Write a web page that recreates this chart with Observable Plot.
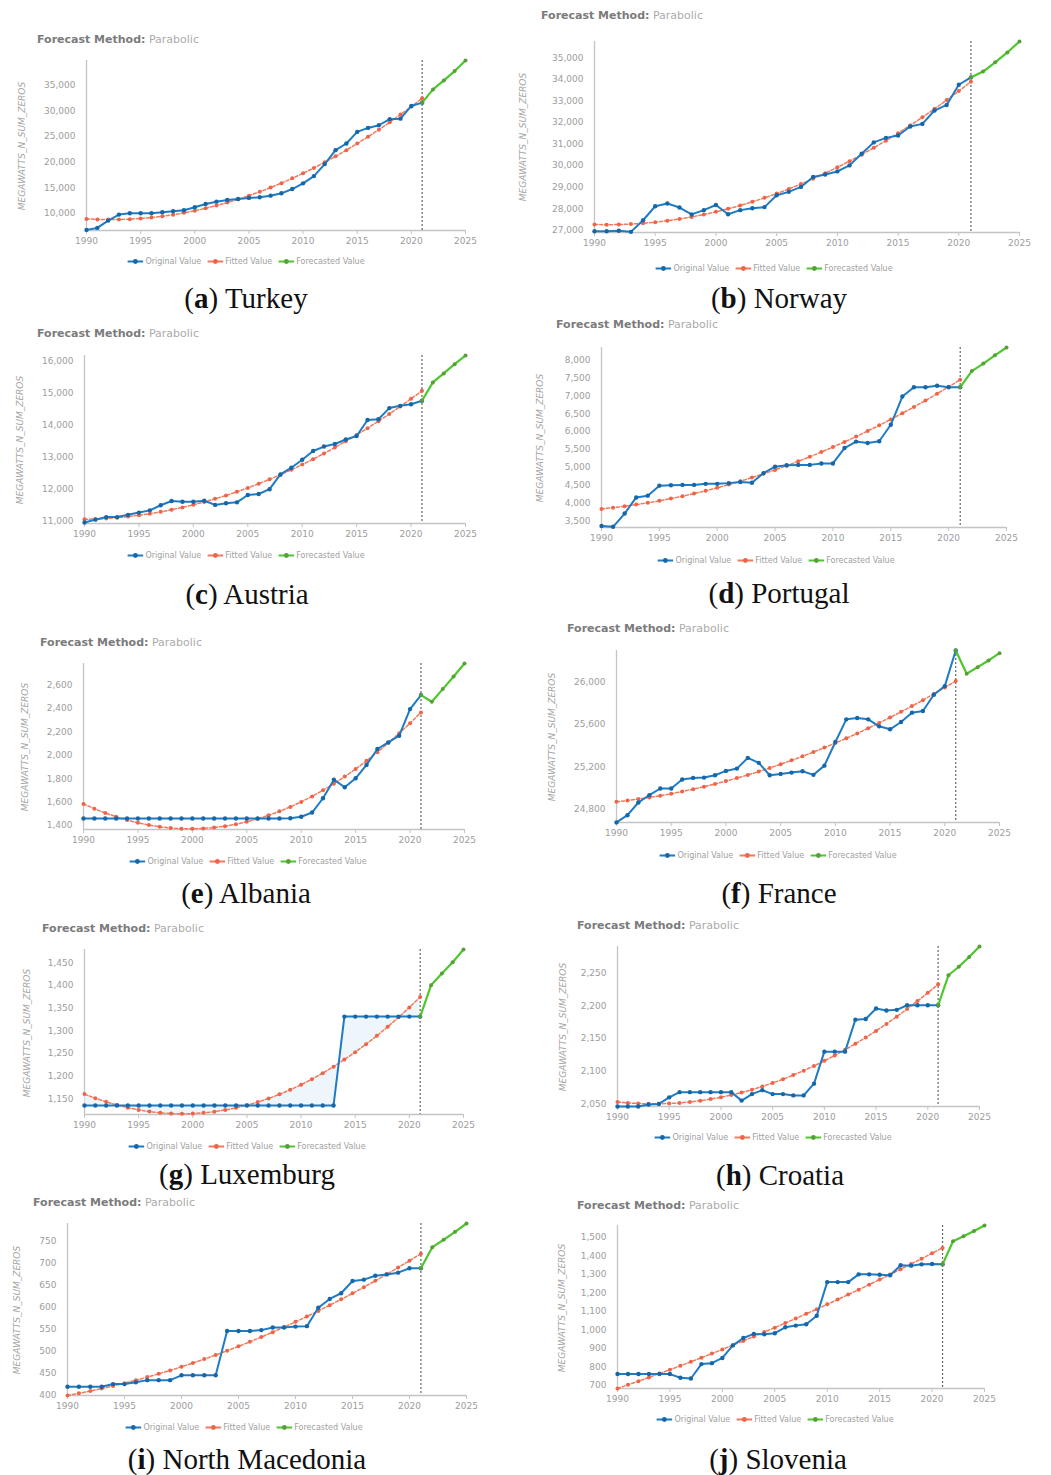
<!DOCTYPE html>
<html><head><meta charset="utf-8">
<script src="https://cdn.jsdelivr.net/npm/d3@7"></script>
<script src="https://cdn.jsdelivr.net/npm/@observablehq/plot@0.6"></script>
<style>
body{margin:0;background:#fff;}
#root{position:relative;width:1051px;height:1475px;overflow:hidden;font-family:"DejaVu Sans",sans-serif;}
.abs{position:absolute;}
.title{font-size:11px;white-space:nowrap;transform:translateY(-50%);}
.title b{color:#7b7b7b;}
.title span{color:#ababab;}
.ylab{font-size:9px;font-style:italic;color:#a5a5a5;white-space:nowrap;transform:translate(-50%,-50%) rotate(-90deg);}
.legend{display:flex;gap:6px;font-size:8px;color:#a0a0a0;white-space:nowrap;transform:translate(-50%,-50%);align-items:center;}
.legend .it{display:flex;align-items:center;gap:2px;}
.caption{font-family:"Liberation Serif",serif;font-size:29px;color:#111;white-space:nowrap;transform:translate(-50%,-50%);}
</style></head><body><div id="root"></div>
<script>
// ---- categories / ticks ----
const years = [1990,1991,1992,1993,1994,1995,1996,1997,1998,1999,2000,2001,2002,2003,2004,2005,2006,2007,2008,2009,2010,2011,2012,2013,2014,2015,2016,2017,2018,2019,2020,2021];
const forecastYears = [2021,2022,2023,2024,2025];
const xTicks = [1990,1995,2000,2005,2010,2015,2020,2025];
const seriesNames = ["Original Value","Fitted Value","Forecasted Value"];

// ---- (a) Turkey ----
const turkeyOriginal = [6750,7140,8570,9740,10000,10000,10000,10200,10400,10580,11170,11820,12270,12600,12800,13000,13120,13440,13900,14740,15850,17270,19610,22340,23640,25910,26690,27210,28400,28500,30980,31630];
const turkeyFitted = [8900,8802,8761,8778,8852,8983,9172,9418,9720,10080,10497,10972,11503,12092,12738,13440,14200,15018,15892,16824,17814,18860,19964,21125,22343,23619,24951,26341,27788,29293,30855,32474];
const turkeyForecast = [31630,34220,35980,37800,39870];
const turkeyTicks = [10000,15000,20000,25000,30000,35000];

// ---- (b) Norway ----
const norwayOriginal = [26950,26950,26970,26920,27460,28110,28240,28050,27730,27930,28170,27740,27930,28020,28070,28620,28780,29010,29470,29590,29730,30010,30550,31080,31290,31400,31820,31940,32560,32820,33760,34100];
const norwayFitted = [27260,27252,27260,27282,27319,27371,27437,27518,27615,27725,27851,27991,28146,28316,28501,28700,28914,29143,29387,29645,29919,30206,30509,30827,31159,31507,31869,32246,32638,33045,33466,33902];
const norwayForecast = [34100,34370,34800,35260,35770];
const norwayTicks = [27000,28000,29000,30000,31000,32000,33000,34000,35000];

// ---- (c) Austria ----
const austriaOriginal = [10960,11050,11130,11130,11200,11270,11340,11500,11630,11610,11610,11640,11510,11560,11590,11820,11850,12000,12460,12670,12920,13190,13330,13410,13550,13660,14160,14180,14530,14600,14650,14760];
const austriaFitted = [11060,11069,11087,11112,11145,11187,11236,11293,11359,11432,11513,11603,11700,11805,11919,12040,12169,12307,12452,12605,12767,12936,13113,13299,13492,13693,13903,14120,14345,14579,14820,15069];
const austriaForecast = [14760,15330,15610,15900,16170];
const austriaTicks = [11000,12000,13000,14000,15000,16000];

// ---- (d) Portugal ----
const portugalOriginal = [3360,3340,3710,4160,4210,4490,4500,4510,4510,4540,4540,4560,4590,4570,4840,5020,5060,5070,5070,5110,5110,5540,5720,5680,5730,6190,6980,7240,7240,7280,7240,7240];
const portugalFitted = [3840,3874,3914,3960,4010,4066,4128,4195,4268,4347,4430,4519,4614,4714,4819,4930,5047,5168,5295,5429,5567,5711,5860,6015,6175,6341,6512,6689,6871,7058,7251,7450];
const portugalForecast = [7240,7690,7900,8130,8350];
const portugalTicks = [3500,4000,4500,5000,5500,6000,6500,7000,7500,8000];

// ---- (e) Albania ----
const albaniaOriginal = [1460,1460,1460,1460,1460,1460,1460,1460,1460,1460,1460,1460,1460,1460,1460,1460,1460,1460,1460,1462,1475,1511,1633,1792,1727,1804,1918,2054,2111,2168,2395,2515];
const albaniaFitted = [1585,1544,1507,1475,1447,1423,1404,1389,1379,1373,1372,1375,1383,1394,1411,1432,1457,1487,1521,1559,1602,1649,1701,1758,1818,1883,1953,2027,2105,2188,2275,2367];
const albaniaForecast = [2515,2458,2566,2674,2785];
const albaniaTicks = [1400,1600,1800,2000,2200,2400,2600];

// ---- (f) France ----
const franceOriginal = [24675,24743,24863,24932,24995,24995,25080,25095,25098,25120,25161,25183,25284,25237,25120,25133,25145,25158,25124,25211,25434,25648,25661,25648,25582,25554,25623,25711,25727,25880,25962,26298];
const franceFitted = [24869,24881,24896,24911,24927,24946,24967,24989,25012,25038,25065,25093,25123,25155,25189,25224,25261,25299,25339,25381,25424,25469,25515,25564,25614,25665,25719,25773,25829,25888,25948,26009];
const franceForecast = [26298,26078,26141,26204,26273];
const franceTicks = [24800,25200,25600,26000];

// ---- (g) Luxemburg ----
const luxOriginal = [1135,1135,1135,1135,1135,1135,1135,1135,1135,1135,1135,1135,1135,1135,1135,1135,1135,1135,1135,1135,1135,1135,1135,1135,1331,1331,1331,1331,1331,1331,1331,1331];
const luxFitted = [1160.0,1150.9,1142.9,1135.9,1130.0,1125.2,1121.4,1118.7,1117.0,1116.5,1117.0,1118.6,1121.2,1124.9,1129.7,1135.5,1142.4,1150.4,1159.4,1169.5,1180.7,1192.9,1206.2,1220.6,1236.2,1252.5,1270.1,1288.7,1308.5,1329.3,1351.3,1374.3];
const luxForecast = [1331,1400,1426,1451,1479];
const luxTicks = [1150,1200,1250,1300,1350,1400,1450];

// ---- (h) Croatia ----
const croatiaOriginal = [2046,2046,2046,2049,2050,2060,2068,2068,2068,2068,2068,2068,2055,2065,2071,2065,2065,2063,2063,2081,2130,2130,2130,2179,2180,2196,2193,2194,2201,2201,2201,2201];
const croatiaFitted = [2053.0,2051.5,2050.6,2050.1,2050.1,2050.6,2051.5,2053.0,2054.9,2057.3,2060.2,2063.6,2067.5,2071.8,2076.7,2082.0,2087.8,2094.1,2100.9,2108.1,2115.9,2124.1,2132.8,2142.0,2151.7,2161.8,2172.5,2183.6,2195.2,2207.4,2220.0,2233.1];
const croatiaForecast = [2201,2247,2260,2275,2291];
const croatiaTicks = [2050,2100,2150,2200,2250];

// ---- (i) North Macedonia ----
const macedoniaOriginal = [418,418,418,418,424,424,428,433,433,433,444,444,444,444,545,545,545,547,553,553,555,556,598,618,631,659,662,671,674,678,688,688];
const macedoniaFitted = [398.0,402.9,408.1,413.8,419.8,426.1,432.8,439.9,447.4,455.2,463.5,472.0,481.0,490.3,500.0,510.0,520.4,531.2,542.4,553.9,565.8,578.1,590.7,603.7,617.1,630.8,644.9,659.4,674.2,689.5,705.1,721.0];
const macedoniaForecast = [688,736,753,771,790];
const macedoniaTicks = [400,450,500,550,600,650,700,750];

// ---- (j) Slovenia ----
const sloveniaOriginal = [760,760,760,760,760,760,740,736,814,819,847,915,955,977,975,981,1013,1022,1029,1075,1257,1257,1257,1299,1299,1297,1294,1348,1346,1353,1355,1353];
const sloveniaFitted = [682.0,701.7,721.7,742.0,762.6,783.6,804.9,826.5,848.4,870.7,893.3,916.2,939.4,963.0,986.8,1011.0,1035.5,1060.3,1085.5,1111.0,1136.8,1162.9,1189.4,1216.1,1243.3,1270.7,1298.5,1326.5,1354.9,1383.6,1412.7,1442.0];
const sloveniaForecast = [1353,1478,1505,1533,1563];
const sloveniaTicks = [700,800,900,1000,1100,1200,1300,1400,1500];

// ---- panels: data references + layout ----
const panels = [
  {letter:"a", name:"Turkey", original:turkeyOriginal, fitted:turkeyFitted, forecast:turkeyForecast, ticks:turkeyTicks, yMin:6630,
   x0:0, left:86, right:465, top:60, bottom:230, title:[37,39], ylab:[22,146], legend:[246,261], cap:[246,298]},
  {letter:"b", name:"Norway", original:norwayOriginal, fitted:norwayFitted, forecast:norwayForecast, ticks:norwayTicks, yMin:26890,
   x0:520, left:594, right:1019, top:41, bottom:232, title:[541,15], ylab:[523,137], legend:[774,268], cap:[779,298]},
  {letter:"c", name:"Austria", original:austriaOriginal, fitted:austriaFitted, forecast:austriaForecast, ticks:austriaTicks, yMin:10930,
   x0:0, left:84, right:465, top:355, bottom:523, title:[37,333], ylab:[20,440], legend:[246,555], cap:[247,594]},
  {letter:"d", name:"Portugal", original:portugalOriginal, fitted:portugalFitted, forecast:portugalForecast, ticks:portugalTicks, yMin:3320,
   x0:520, left:601, right:1006, top:347, bottom:527, title:[556,324], ylab:[540,438], legend:[776,560], cap:[779,593]},
  {letter:"e", name:"Albania", original:albaniaOriginal, fitted:albaniaFitted, forecast:albaniaForecast, ticks:albaniaTicks, yMin:1366,
   x0:0, left:83, right:464, top:663, bottom:829, title:[40,642], ylab:[25,747], legend:[248,861], cap:[246,893]},
  {letter:"f", name:"France", original:franceOriginal, fitted:franceFitted, forecast:franceForecast, ticks:franceTicks, yMin:24674,
   x0:520, left:616, right:999, top:650, bottom:822, title:[567,628], ylab:[552,737], legend:[778,855], cap:[779,893]},
  {letter:"g", name:"Luxemburg", original:luxOriginal, fitted:luxFitted, forecast:luxForecast, ticks:luxTicks, yMin:1115, shade:true,
   x0:0, left:84, right:463, top:949, bottom:1114, title:[42,928], ylab:[27,1033], legend:[247,1146], cap:[247,1174]},
  {letter:"h", name:"Croatia", original:croatiaOriginal, fitted:croatiaFitted, forecast:croatiaForecast, ticks:croatiaTicks, yMin:2046,
   x0:520, left:617, right:979, top:946, bottom:1106, title:[577,925], ylab:[563,1027], legend:[773,1137], cap:[780,1175]},
  {letter:"i", name:"North Macedonia", original:macedoniaOriginal, fitted:macedoniaFitted, forecast:macedoniaForecast, ticks:macedoniaTicks, yMin:398,
   x0:0, left:67, right:466, top:1223, bottom:1395, title:[33,1202], ylab:[17,1310], legend:[244,1427], cap:[247,1459]},
  {letter:"j", name:"Slovenia", original:sloveniaOriginal, fitted:sloveniaFitted, forecast:sloveniaForecast, ticks:sloveniaTicks, yMin:682,
   x0:520, left:617, right:984, top:1225, bottom:1388, title:[577,1205], ylab:[562,1308], legend:[775,1419], cap:[778,1459]}
];

const C = {orig:"#1f7bc4", origDot:"#1667a8", fit:"#f3795c", fitDot:"#ef6448", fc:"#4cc72c", fcDot:"#5b9c3c", axis:"#c4c4c4", text:"#9d9d9d"};
const root = document.getElementById("root");

function add(cls, x, y, html) {
  const d = document.createElement("div");
  d.className = "abs " + cls;
  d.style.left = x + "px"; d.style.top = y + "px";
  d.innerHTML = html;
  root.appendChild(d);
  return d;
}

function legendItem(color, dot, label) {
  return `<span class="it"><svg width="16" height="8"><line x1="0" y1="4" x2="16" y2="4" stroke="${color}" stroke-width="2"/><circle cx="8" cy="4" r="2.4" fill="${dot}"/></svg>${label}</span>`;
}

for (const p of panels) {
  const orig = years.map((y, i) => ({year: y, value: p.original[i]}));
  const fit = years.map((y, i) => ({year: y, value: p.fitted[i]}));
  const fc = forecastYears.map((y, i) => ({year: y, value: p.forecast[i]}));
  const band = years.map((y, i) => ({year: y, a: p.original[i], b: p.fitted[i]}));
  const yMax = d3.max(p.forecast.concat(p.original, p.fitted));
  const mt = 8, mb = 26, mr = 14;
  const ml = p.left - p.x0;
  const width = p.right - p.x0 + mr;
  const height = (p.bottom - p.top) + mt + mb;

  const marks = [
    Plot.axisY({ticks: p.ticks, tickSize: 0, tickPadding: 11, tickFormat: d3.format(","), label: null, color: C.text}),
    Plot.axisX({ticks: xTicks, tickSize: 4, tickPadding: 3, tickFormat: d => String(d), label: null, color: C.axis}),
    Plot.ruleY([p.yMin], {stroke: C.axis, strokeWidth: 1.3}),
    Plot.ruleX([1990], {stroke: C.axis, strokeWidth: 1.3})
  ];
  if (p.shade) marks.push(Plot.areaY(band, {x: "year", y1: "a", y2: "b", fill: "#e2f0f8", fillOpacity: 0.6}));
  marks.push(
    Plot.ruleX([2021], {stroke: "#666", strokeDasharray: "2,2", strokeWidth: 1.2}),
    Plot.line(fit, {x: "year", y: "value", stroke: C.fit, strokeWidth: 1.5, strokeDasharray: "3,2"}),
    Plot.dot(fit, {x: "year", y: "value", r: 2, fill: C.fitDot}),
    Plot.line(orig, {x: "year", y: "value", stroke: C.orig, strokeWidth: 2}),
    Plot.dot(orig, {x: "year", y: "value", r: 2.2, fill: C.origDot}),
    Plot.line(fc, {x: "year", y: "value", stroke: C.fc, strokeWidth: 2.2}),
    Plot.dot(fc, {x: "year", y: "value", r: 2, fill: C.fcDot})
  );

  const chart = Plot.plot({
    width, height, marginLeft: ml, marginRight: mr, marginTop: mt, marginBottom: mb,
    style: {fontFamily: "DejaVu Sans, sans-serif", fontSize: "9px", background: "transparent", overflow: "visible"},
    x: {domain: [1990, 2025]},
    y: {domain: [p.yMin, yMax]},
    marks
  });
  chart.querySelectorAll('[aria-label="x-axis tick label"]').forEach(g => g.setAttribute("fill", C.text));
  chart.style.position = "absolute";
  chart.style.left = p.x0 + "px";
  chart.style.top = (p.top - mt) + "px";
  root.appendChild(chart);

  add("title", p.title[0], p.title[1], `<b>Forecast Method:</b> <span>Parabolic</span>`);
  add("ylab", p.ylab[0], p.ylab[1], "MEGAWATTS_N_SUM_ZEROS");
  add("legend", p.legend[0], p.legend[1],
      legendItem(C.orig, C.origDot, seriesNames[0]) + legendItem(C.fit, C.fitDot, seriesNames[1]) + legendItem(C.fc, C.fcDot, seriesNames[2]));
  add("caption", p.cap[0], p.cap[1], `(<b>${p.letter}</b>) ${p.name}`);
}
</script>
</body></html>
